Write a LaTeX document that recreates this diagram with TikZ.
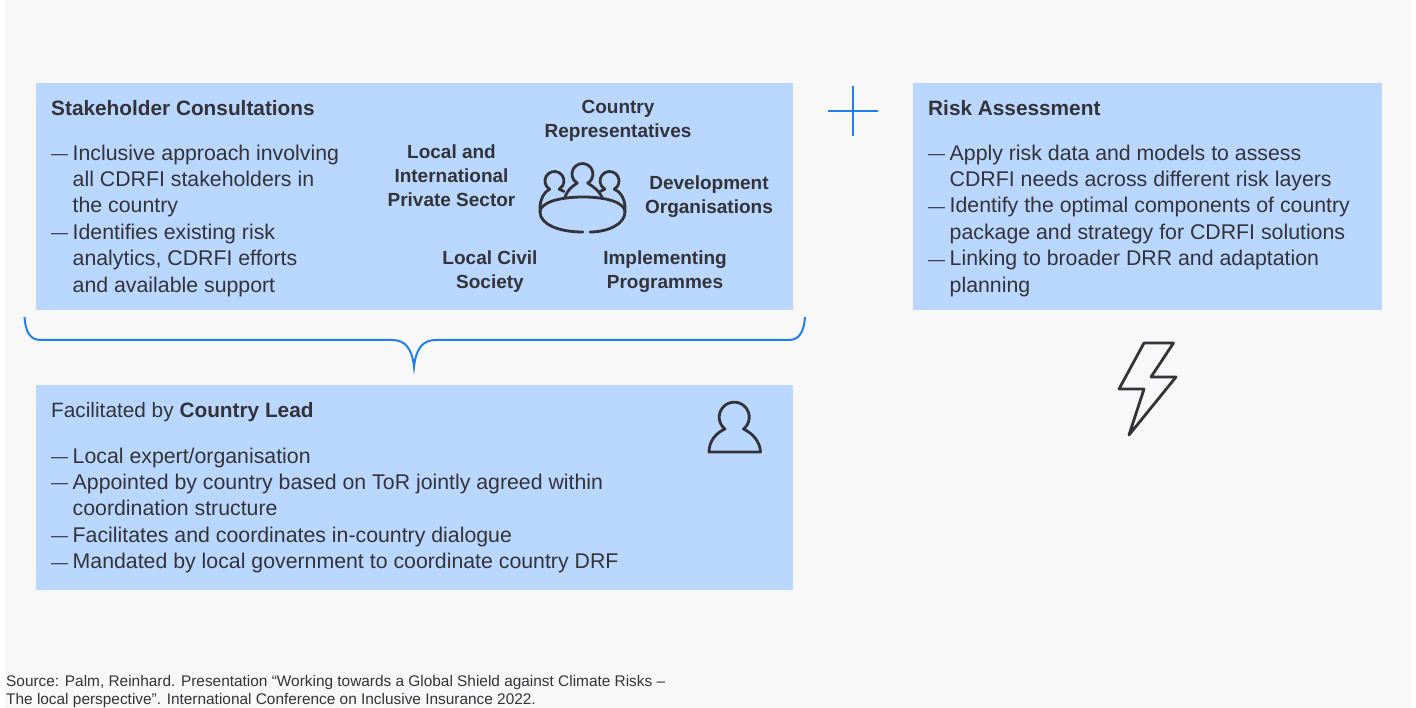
\documentclass[tikz,border=0pt]{standalone}
\usepackage{fontspec}
\setmainfont{Liberation Sans}
\definecolor{panel}{HTML}{F8F8F8}
\definecolor{boxblue}{HTML}{B9D7FF}
\definecolor{inkgrey}{HTML}{333338}
\definecolor{accent}{HTML}{1F7FF0}
\newcommand{\dashline}{\makebox[21.5pt][l]{\raisebox{0.6pt}{\fontsize{17}{17}\selectfont —}}}
\newcommand{\hangline}{\hspace*{21.5pt}}
\tikzset{
    bluebox/.style={fill=boxblue, draw=none, anchor=north west, inner sep=0pt},
    bodytext/.style={text=inkgrey, align=left, anchor=north west, inner sep=0pt, font=\fontsize{21.3}{26.4}\selectfont},
    headtext/.style={text=inkgrey, anchor=west, inner sep=0pt, font=\fontsize{20.8}{24}\selectfont\bfseries},
    actortext/.style={text=inkgrey, align=center, inner sep=0pt, font=\fontsize{19}{24}\selectfont\bfseries},
    iconline/.style={draw=inkgrey, line width=2.8pt, line join=round, line cap=round},
    blueline/.style={draw=accent, line width=2pt}
}
\begin{document}
\begin{tikzpicture}[x=1pt, y=-1pt]
    \useasboundingbox (0,0) rectangle (1416,708);
    \fill[panel] (5,0) rectangle (1412,708);

    \node (consult) [bluebox, minimum width=757pt, minimum height=227pt] at (36,83) {};
    \node (risk) [bluebox, minimum width=469pt, minimum height=227pt] at (913,83) {};
    \node (lead) [bluebox, minimum width=757pt, minimum height=205pt] at (36,385) {};

    \node (consultHead) [headtext] at (51,108) {Stakeholder Consultations};
    \node (consultList) [bodytext] at (51,144.5) {\dashline Inclusive approach involving\\ \hangline all CDRFI stakeholders in\\ \hangline the country\\ \dashline Identifies existing risk\\ \hangline analytics, CDRFI efforts\\ \hangline and available support};

    \node (riskHead) [headtext] at (928,108) {Risk Assessment};
    \node (riskList) [bodytext] at (928,144.5) {\dashline Apply risk data and models to assess\\ \hangline CDRFI needs across different risk layers\\ \dashline Identify the optimal components of country\\ \hangline package and strategy for CDRFI solutions\\ \dashline Linking to broader DRR and adaptation\\ \hangline planning};

    \node (leadHead) [headtext] at (51,412) {\mdseries Facilitated by \bfseries Country Lead};
    \node (leadList) [bodytext] at (51,447.5) {\dashline Local expert/organisation\\ \dashline Appointed by country based on ToR jointly agreed within\\ \hangline coordination structure\\ \dashline Facilitates and coordinates in-country dialogue\\ \dashline Mandated by local government to coordinate country DRF};

    \node (repr) [actortext] at (618,121) {Country\\Representatives};
    \node (privat) [actortext] at (451.5,175.5) {Local and\\International\\Private Sector};
    \node (devel) [actortext] at (709,197) {Development\\Organisations};
    \node (civil) [actortext] at (490,272) {Local Civil\\Society};
    \node (impl) [actortext] at (665,272) {Implementing\\Programmes};

    % table with people
    \draw[iconline] (583,232) .. controls (558,232) and (540,224) .. (540,212) .. controls (540,203) and (558,197) .. (583,197) .. controls (608,197) and (625,203) .. (625,212) .. controls (625,224) and (608,232) .. (590,232);
    \draw[iconline] (540,212) -- (540,206) .. controls (541,198) and (544,192) .. (549.7,189.2) arc[start angle=240, end angle=-60, radius=9.5pt] -- (564,191.5);
    \draw[iconline] (565,197) .. controls (567,191) and (571,187) .. (577.2,183.1) arc[start angle=240, end angle=-60, radius=10.5pt] .. controls (594,187) and (599,191) .. (602,197);
    \draw[iconline] (625,212) -- (625,206) .. controls (624,198) and (621,192) .. (614.3,189.2) arc[start angle=-60, end angle=240, radius=9.5pt] -- (600,191.5);

    % plus sign
    \draw[blueline] (853,86) -- (853,136);
    \draw[blueline] (828,111) -- (878,111);

    % brace
    \draw[blueline] (24.5,317) .. controls (25.5,332) and (30,340) .. (41,340) -- (392,340) .. controls (405,340) and (412,348) .. (414,367) .. controls (416,348) and (423,340) .. (436,340) -- (789,340) .. controls (799,340) and (804,332) .. (805,317);

    % bolt
    \draw[iconline] (1144,343) -- (1173.5,343) -- (1151,377) -- (1176,377) -- (1129,435) -- (1144,389) -- (1119,389) -- cycle;

    % single person
    \draw[iconline] (709,452) .. controls (709,441) and (716,433) .. (725,429) arc[start angle=232, end angle=-52, radius=15pt] .. controls (752,433) and (760,441) .. (760.5,452) -- cycle;

    \node (source) [text=inkgrey, align=left, anchor=north west, inner sep=0pt, font=\fontsize{15.4}{18}\selectfont] at (6,675) {Source: Palm, Reinhard. Presentation “Working towards a Global Shield against Climate Risks –\\The local perspective”. International Conference on Inclusive Insurance 2022.};
\end{tikzpicture}
\end{document}
